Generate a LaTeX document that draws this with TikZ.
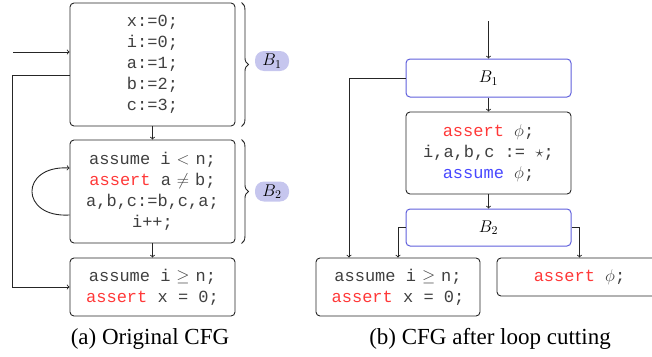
\RequirePackage{fix-cm}
\documentclass[tikz,border=0pt]{standalone}
\usepackage{fontspec}
\setmainfont{Liberation Serif}
\setmonofont{Liberation Mono}
\usetikzlibrary{decorations.pathreplacing,calc}
\definecolor{kwred}{HTML}{FF3838}
\definecolor{kwblue}{HTML}{4848FF}
\definecolor{bbord}{HTML}{6060DC}
\definecolor{bfill}{HTML}{C6C6EE}
\newcommand{\kwa}{\textcolor{kwred}{assert}}
\newcommand{\kwu}{\textcolor{kwblue}{assume}}
\newcommand{\gapsp}{\hspace{0.35em}}
\begin{document}
\begin{tikzpicture}[x=1pt,y=-1pt, line width=0.9pt,
  every node/.style={font=\fontsize{17}{21}\selectfont\ttfamily, text=black!75},
  cfg/.style={draw=black!85, rounded corners=4pt, align=center, minimum width=165pt, inner sep=0pt},
  bbox/.style={cfg, draw=bbord, line width=1pt, text=black},
  badge/.style={fill=bfill, rounded corners=9pt, minimum width=34pt, minimum height=20pt, inner sep=0pt, text=black},
  brc/.style={draw=black!85, decorate, decoration={brace, amplitude=7pt}},
  captxt/.style={font=\fontsize{23}{27}\selectfont\rmfamily, text=black},
  conn/.style={->, draw=black!85}]
\useasboundingbox (0,0) rectangle (652,356);

% (a) original CFG
\node[cfg, minimum height=123pt] (b1) at (152.5,64.5) {x:=0;\\i:=0;\\a:=1;\\b:=2;\\c:=3;};
\node[cfg, minimum height=103pt] (b2) at (152.5,191.5) {assume i\gapsp$<$\gapsp n;\\\kwa{} a\gapsp$\neq$\gapsp b;\\a,b,c:=b,c,a;\\i++;};
\node[cfg, minimum height=58pt] (b3) at (152.5,287) {assume i\gapsp$\geq$\gapsp n;\\\kwa{} x = 0;};

\coordinate (in1) at (13,52);
\draw[conn] (in1) -- (in1 -| b1.west);
\draw[conn] (b1.south) -- (b2.north);
\draw[conn] (b2.south) -- (b3.north);
\draw[conn] ([yshift=-10.5pt]b1.west) -- ++(-57,0) |- (b3.west);
\draw[conn] ([yshift=-23.5pt]b2.west) .. controls ++(-50,3) and ([xshift=-50pt,yshift=26.5pt]b2.west) .. ([yshift=23.5pt]b2.west);

\draw[brc] ([xshift=6pt]b1.north east) -- ([xshift=6pt]b1.south east);
\draw[brc] ([xshift=6pt]b2.north east) -- ([xshift=6pt]b2.south east);
\node[badge] (l1) at (272,61) {$B_1$};
\node[badge] (l2) at (272,191.5) {$B_2$};

\node[captxt] (capa) at (150,339) {(a) Original CFG};

% (b) CFG after loop cutting
\node[bbox, minimum height=38pt] (r1) at (488.5,78) {$B_1$};
\node[cfg, minimum height=82pt] (rm) at (488.5,153) {\kwa{} $\phi$;\\i,a,b,c := $\star$;\\\kwu{} $\phi$;};
\node[bbox, minimum height=37pt] (r2) at (488.5,227.5) {$B_2$};
\node[cfg, minimum width=164pt, minimum height=58pt] (rl) at (398,287) {assume i\gapsp$\geq$\gapsp n;\\\kwa{} x = 0;};
\node[cfg, minimum height=38pt] (rr) at (579.5,277) {\kwa{} $\phi$;};

\coordinate (rtop) at (488.5,21);
\draw[conn] (rtop) -- (r1.north);
\draw[conn] (r1.south) -- (rm.north);
\draw[conn] (rm.south) -- (r2.north);
\draw[conn] (r1.west) -| ([xshift=-49pt]rl.north);
\draw[conn] (r2.west) -| (rl.north);
\draw[conn] (r2.east) -| (rr.north);

\node[captxt] (capb) at (490,339) {(b) CFG after loop cutting};
\end{tikzpicture}
\end{document}
